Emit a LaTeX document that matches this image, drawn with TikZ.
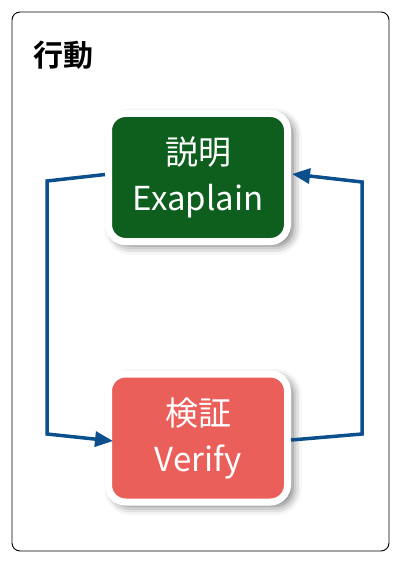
\documentclass[tikz,border=0pt]{standalone}
\usepackage{fontspec}
\newfontfamily\jp{Noto Sans CJK JP}
\newfontfamily\jpb{Noto Sans CJK JP Bold}
\usetikzlibrary{arrows.meta,shadows.blur}
\definecolor{boxgreen}{HTML}{0E5E1E}
\definecolor{boxred}{HTML}{EB5F5B}
\definecolor{linkblue}{HTML}{0B4F8C}
\begin{document}
\begin{tikzpicture}[x=1pt,y=-1pt,
  stepbox/.style={draw=white,line width=7pt,rounded corners=17pt,
    minimum width=179pt,minimum height=128pt,inner sep=0pt,align=center,
    text=white,font=\jp\fontsize{33}{46}\selectfont,
    blur shadow={shadow xshift=5pt,shadow yshift=-4pt,shadow blur radius=9pt,shadow opacity=60}},
  link/.style={draw=linkblue,line width=3.5pt,-{Triangle[length=18pt,width=15pt]}}]
\useasboundingbox (0,0) rectangle (409,567);
\draw[line width=0.9pt,rounded corners=8pt] (12,12) rectangle (389,551);
\node[anchor=west,font=\jpb\fontsize{30}{34}\selectfont] (title) at (30,55) {行動};
\node[stepbox,fill=boxgreen] (top) at (198,177.5) {説明\\Exaplain};
\node[stepbox,fill=boxred] (bot) at (198,438) {検証\\Verify};
\coordinate (l1) at (47,181);
\coordinate (l2) at (47,434);
\coordinate (r1) at (362,434);
\coordinate (r2) at (362,182);
\draw[link] ([yshift=3pt]top.west) -- (l1) -- (l2) -- ([xshift=8pt,yshift=-3pt]bot.west);
\draw[link] ([yshift=-2pt]bot.east) -- (r1) -- (r2) -- ([xshift=1pt,yshift=3.5pt]top.east);
\end{tikzpicture}
\end{document}
